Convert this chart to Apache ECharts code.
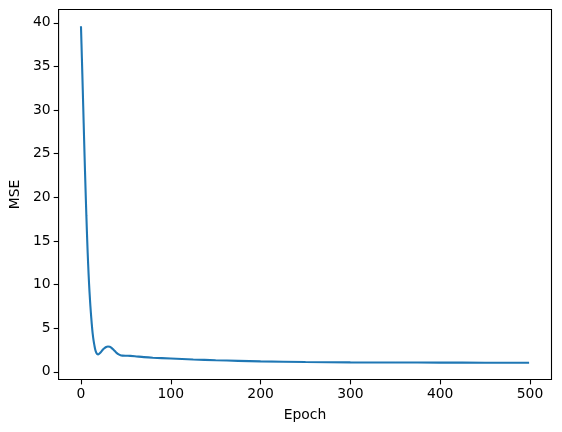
<!DOCTYPE html>
<html>
<head>
<meta charset="utf-8">
<script src="https://cdn.jsdelivr.net/npm/echarts@6/dist/echarts.min.js"></script>
<style>
html,body{margin:0;padding:0;background:#fff;}
#chart{width:562px;height:432px;}
</style>
</head>
<body>
<div id="chart"></div>
<script>
const epochs = [0,1,2,3,4,5,6,7,8,9,10,11,12,13,14,15,16,17,18,19,20,22,24,26,28,30,32,34,36,38,40,42,44,46,50,55,60,70,80,100,125,150,175,200,250,300,350,400,450,499];
const mse = [39.6,36.0,32.3,28.5,24.7,21.2,17.9,14.9,12.3,10.1,8.3,6.8,5.5,4.4,3.6,3.0,2.5,2.2,2.05,2.0,2.05,2.25,2.5,2.7,2.85,2.9,2.88,2.75,2.55,2.35,2.15,2.0,1.9,1.86,1.84,1.83,1.79,1.69,1.62,1.53,1.42,1.33,1.26,1.2,1.13,1.09,1.07,1.06,1.05,1.05];
const xTicks = [0,100,200,300,400,500];
const yTicks = [0,5,10,15,20,25,30,35,40];

const pts = epochs.map((e,i)=>[e,mse[i]]);
const xSpan = epochs[epochs.length-1]-epochs[0];
const yMin = Math.min(...mse), yMax = Math.max(...mse);
const ySpan = yMax - yMin;

const font = 'DejaVu Sans';
const chart = echarts.init(document.getElementById('chart'), null, {renderer:'canvas'});
chart.setOption({
  animation:false,
  backgroundColor:'#fff',
  grid:{left:57.5,right:10.5,top:9.5,bottom:52.5,show:true,borderColor:'#000',borderWidth:1.1,backgroundColor:'transparent'},
  xAxis:{
    type:'value',
    min: epochs[0]-0.05*xSpan, max: epochs[epochs.length-1]+0.05*xSpan,
    name:'Epoch', nameLocation:'middle', nameGap:29,
    nameTextStyle:{fontFamily:font,fontSize:13.9,color:'#000'},
    axisLine:{show:false,onZero:false},
    axisTick:{show:true,inside:false,length:4.9,lineStyle:{color:'#000',width:1.1},customValues:xTicks},
    axisLabel:{fontFamily:font,fontSize:13.9,color:'#000',margin:8,customValues:xTicks,formatter:v=>String(v)},
    splitLine:{show:false}
  },
  yAxis:{
    type:'value',
    min: yMin-0.05*ySpan, max: yMax+0.05*ySpan,
    name:'MSE', nameLocation:'middle', nameGap:36, nameRotate:90,
    nameTextStyle:{fontFamily:font,fontSize:13.9,color:'#000'},
    axisLine:{show:false,onZero:false},
    axisTick:{show:true,inside:false,length:4.9,lineStyle:{color:'#000',width:1.1},customValues:yTicks},
    axisLabel:{fontFamily:font,fontSize:13.9,color:'#000',margin:8,customValues:yTicks,formatter:v=>String(v)},
    splitLine:{show:false}
  },
  series:[{
    type:'line',
    data:pts,
    showSymbol:false,
    smooth:0.3,
    lineStyle:{color:'#1f77b4',width:2.1},
    itemStyle:{color:'#1f77b4'}
  }]
});
</script>
</body>
</html>
